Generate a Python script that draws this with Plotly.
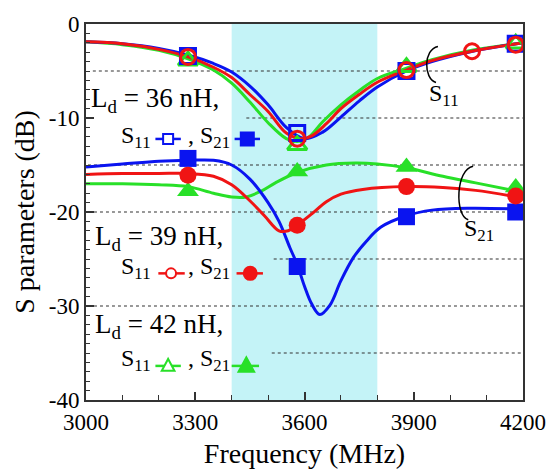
import plotly.graph_objects as go

# ---------------- data ----------------
freq_b11 = [3000, 3100, 3200, 3280, 3350, 3400, 3450, 3500, 3550, 3600, 3650, 3700, 3750, 3800, 3880, 3950, 4050, 4200]
s11_36 = [-1.9, -2.1, -2.6, -3.3, -4.2, -5.1, -6.6, -8.6, -11.0, -12.2, -11.5, -9.9, -8.2, -6.7, -5.0, -4.0, -3.0, -2.0]

freq_r11 = [3000, 3100, 3200, 3280, 3350, 3400, 3450, 3500, 3550, 3590, 3620, 3660, 3700, 3750, 3800, 3880, 3950, 4060, 4200]
s11_39 = [-1.9, -2.1, -2.7, -3.5, -4.6, -5.7, -7.5, -9.3, -11.6, -12.2, -11.9, -10.6, -9.0, -7.5, -6.2, -4.9, -3.9, -2.9, -2.0]

freq_g11 = [3000, 3100, 3200, 3280, 3350, 3400, 3450, 3500, 3550, 3580, 3610, 3650, 3700, 3750, 3800, 3880, 3950, 4060, 4200]
s11_42 = [-1.9, -2.2, -2.8, -3.7, -4.9, -6.3, -8.3, -10.5, -12.2, -12.5, -12.1, -10.4, -8.6, -7.1, -5.8, -4.7, -3.8, -2.8, -2.0]

freq_b21 = [3000, 3100, 3200, 3280, 3350, 3400, 3450, 3500, 3530, 3560, 3580, 3600, 3620, 3642, 3670, 3700, 3735, 3770, 3810, 3880, 3950, 4050, 4200]
s21_36 = [-15.2, -14.9, -14.6, -14.5, -14.5, -15.0, -16.5, -19.0, -21.0, -23.8, -25.6, -27.9, -29.8, -30.9, -29.9, -27.3, -24.8, -23.1, -21.6, -20.4, -19.8, -19.6, -19.7]

freq_r21 = [3000, 3100, 3200, 3280, 3350, 3400, 3450, 3490, 3530, 3555, 3580, 3620, 3660, 3700, 3760, 3880, 3980, 4070, 4200]
s21_39 = [-16.0, -15.9, -15.9, -15.9, -16.2, -17.1, -18.8, -20.4, -22.0, -22.0, -21.4, -20.2, -18.9, -18.1, -17.6, -17.3, -17.4, -17.7, -18.5]

freq_g21 = [3000, 3100, 3200, 3280, 3350, 3400, 3440, 3480, 3520, 3580, 3660, 3740, 3800, 3880, 3980, 4070, 4200]
s21_42 = [-17.0, -17.0, -17.1, -17.3, -18.0, -18.4, -18.4, -17.8, -16.9, -15.8, -15.0, -14.8, -14.9, -15.3, -16.2, -16.9, -17.9]

# marker points
mk_f = [3280, 3580, 3880, 4180]
mk_b11 = [-3.4, -11.6, -5.0, -2.1]
mk_r11_f = [3280, 3580, 3880, 4060, 4180]
mk_r11 = [-3.5, -12.2, -4.9, -2.9, -2.2]
mk_g11 = [-3.9, -12.9, -4.6, -2.1]
mk_b21 = [-14.3, -25.8, -20.5, -20.0]
mk_r21 = [-16.1, -21.4, -17.3, -18.3]
mk_g21 = [-17.8, -15.7, -15.2, -17.4]

x_ticks = [3000, 3300, 3600, 3900, 4200]
y_ticks = [-40, -30, -20, -10, 0]
band = [3400, 3800]
grid_levels = [-5, -10, -15, -20, -25, -30, -35]
grid_start_px = [93, 250, 88, 88, 278, 88, 276]

labels = ["36", "39", "42"]

BLUE = "#0a14f0"
RED = "#f01414"
GREEN = "#28e028"
FONT = "Liberation Serif, Times New Roman, Times, serif"

# ---------------- layout geometry helpers ----------------
W, H = 558, 476
L, R, T, B = 86, 25, 17, 73
PW, PH = W - L - R, H - T - B


def px(x):
    return (x - L) / PW


def py(y):
    return (H - B - y) / PH


fig = go.Figure()

series = [
    (freq_g11, s11_42, mk_f, mk_g11, GREEN, "triangle-up-open"),
    (freq_g21, s21_42, mk_f, mk_g21, GREEN, "triangle-up"),
    (freq_b11, s11_36, mk_f, mk_b11, BLUE, "square-open"),
    (freq_b21, s21_36, mk_f, mk_b21, BLUE, "square"),
    (freq_r11, s11_39, mk_r11_f, mk_r11, RED, "circle-open"),
    (freq_r21, s21_39, mk_f, mk_r21, RED, "circle"),
]
for fx, fy, mx, my, col, sym in series:
    fig.add_trace(go.Scatter(x=fx, y=fy, mode="lines",
                             line=dict(color=col, width=3, shape="spline", smoothing=1.0),
                             hoverinfo="skip", showlegend=False))
for fx, fy, mx, my, col, sym in series:
    size = 15 if "open" in sym else 17
    if "triangle" in sym:
        size += 2
    fig.add_trace(go.Scatter(x=mx, y=my, mode="markers",
                             marker=dict(symbol=sym, size=size, color=col,
                                         line=dict(width=3 if "open" in sym else 0, color=col)),
                             showlegend=False))

shapes = []
# shaded band
shapes.append(dict(type="rect", xref="x", yref="paper", x0=band[0], x1=band[1], y0=0, y1=1,
                   fillcolor="#c4f3f7", line=dict(width=0), layer="below"))
# dotted reference lines
for lv, sx in zip(grid_levels, grid_start_px):
    shapes.append(dict(type="line", xref="paper", yref="y", x0=px(sx), x1=1, y0=lv, y1=lv,
                       line=dict(color="#333333", width=1.2, dash="dot"), layer="below"))

# legend samples
rows = [
    dict(col=BLUE, ysym=135, l1=(157, 183), c1=170, l2=(238, 264), c2=251, kind="square"),
    dict(col=RED, ysym=273, l1=(160, 187), c1=173, l2=(240, 267), c2=254, kind="circle"),
    dict(col=GREEN, ysym=368, l1=(157, 183), c1=170, l2=(235, 263), c2=250, kind="triangle"),
]
annotations = []
for r in rows:
    col = r["col"]
    for (a, b) in (r["l1"], r["l2"]):
        shapes.append(dict(type="line", xref="paper", yref="paper", x0=px(a), x1=px(b),
                           y0=py(r["ysym"]), y1=py(r["ysym"]), line=dict(color=col, width=2.5)))
    for cx, filled in ((r["c1"], False), (r["c2"], True)):
        s = 5 if not filled else 6.5
        fill = col if filled else "white"
        if r["kind"] == "square":
            shapes.append(dict(type="rect", xref="paper", yref="paper", xsizemode="pixel", ysizemode="pixel",
                               xanchor=px(cx), yanchor=py(r["ysym"]), x0=-s, x1=s, y0=-s, y1=s,
                               fillcolor=fill, line=dict(color=col, width=2)))
        elif r["kind"] == "circle":
            shapes.append(dict(type="circle", xref="paper", yref="paper", xsizemode="pixel", ysizemode="pixel",
                               xanchor=px(cx), yanchor=py(r["ysym"]), x0=-s, x1=s, y0=-s, y1=s,
                               fillcolor=fill, line=dict(color=col, width=2)))
        else:
            x0, y0 = px(cx), py(r["ysym"])
            dx, dy = (s + 1.5) / PW, (s + 1.5) / PH
            path = f"M {x0-dx},{y0-dy*0.75} L {x0+dx},{y0-dy*0.75} L {x0},{y0+dy*1.1} Z"
            shapes.append(dict(type="path", xref="paper", yref="paper", path=path,
                               fillcolor=fill, line=dict(color=col, width=2)))

# brackets
def bracket(p0, c1, c2, p1):
    return (f"M {px(p0[0])},{py(p0[1])} C {px(c1[0])},{py(c1[1])} {px(c2[0])},{py(c2[1])} "
            f"{px(p1[0])},{py(p1[1])}")

shapes.append(dict(type="path", xref="paper", yref="paper",
                   path=bracket((446, 40), (431, 43), (431, 73), (444, 77)),
                   line=dict(color="black", width=1.5)))
shapes.append(dict(type="path", xref="paper", yref="paper",
                   path=bracket((482, 163), (464, 166), (463, 214), (477, 218)),
                   line=dict(color="black", width=1.5)))

# texts
ld_pos = [(89, 95), (93, 237), (93, 327)]
row_pos = [133, 268, 362]
for lab, (lx, ly), ry in zip(labels, ld_pos, row_pos):
    annotations.append(dict(xref="paper", yref="paper", x=px(lx), y=py(ly), xanchor="left", yanchor="middle",
                            text=f"L<sub>d</sub> = {lab} nH,", showarrow=False,
                            font=dict(family=FONT, size=27, color="black")))
    annotations.append(dict(xref="paper", yref="paper", x=px(120), y=py(ry), xanchor="left", yanchor="middle",
                            text="S<sub>11</sub>", showarrow=False,
                            font=dict(family=FONT, size=24, color="black")))
    annotations.append(dict(xref="paper", yref="paper", x=px(188), y=py(ry), xanchor="left", yanchor="middle",
                            text=", S<sub>21</sub>", showarrow=False,
                            font=dict(family=FONT, size=24, color="black")))

annotations.append(dict(xref="paper", yref="paper", x=px(452), y=py(90), xanchor="center", yanchor="middle",
                        text="S<sub>11</sub>", showarrow=False, font=dict(family=FONT, size=24, color="black")))
annotations.append(dict(xref="paper", yref="paper", x=px(488), y=py(228), xanchor="center", yanchor="middle",
                        text="S<sub>21</sub>", showarrow=False, font=dict(family=FONT, size=24, color="black")))

fig.update_layout(
    width=W, height=H,
    margin=dict(l=L, r=R, t=T, b=B, pad=0),
    plot_bgcolor="white", paper_bgcolor="white",
    shapes=shapes, annotations=annotations,
    font=dict(family=FONT, color="black"),
    xaxis=dict(range=[3000, 4200], tickvals=x_ticks, ticktext=[str(v) for v in x_ticks],
               ticks="inside", ticklen=8, tickwidth=1.5, tickcolor="#333",
               minor=dict(dtick=100, tick0=3000, ticks="inside", ticklen=5, tickwidth=1.2, tickcolor="#333"),
               showline=True, linecolor="#333", linewidth=2, mirror=True, showgrid=False, zeroline=False,
               tickfont=dict(family=FONT, size=23, color="black"),
               title=dict(text="Frequency (MHz)", font=dict(family=FONT, size=28, color="black"), standoff=10)),
    yaxis=dict(range=[-40, 0], tickvals=y_ticks, ticktext=[str(v) for v in y_ticks],
               ticks="inside", ticklen=8, tickwidth=1.5, tickcolor="#333",
               minor=dict(dtick=1, tick0=0, ticks="inside", ticklen=4, tickwidth=1, tickcolor="#333"),
               showline=True, linecolor="#333", linewidth=2, mirror=True, showgrid=False, zeroline=False,
               tickfont=dict(family=FONT, size=23, color="black"),
               title=dict(text="S parameters (dB)", font=dict(family=FONT, size=28, color="black"), standoff=6)),
)

fig.write_html("out.html")
